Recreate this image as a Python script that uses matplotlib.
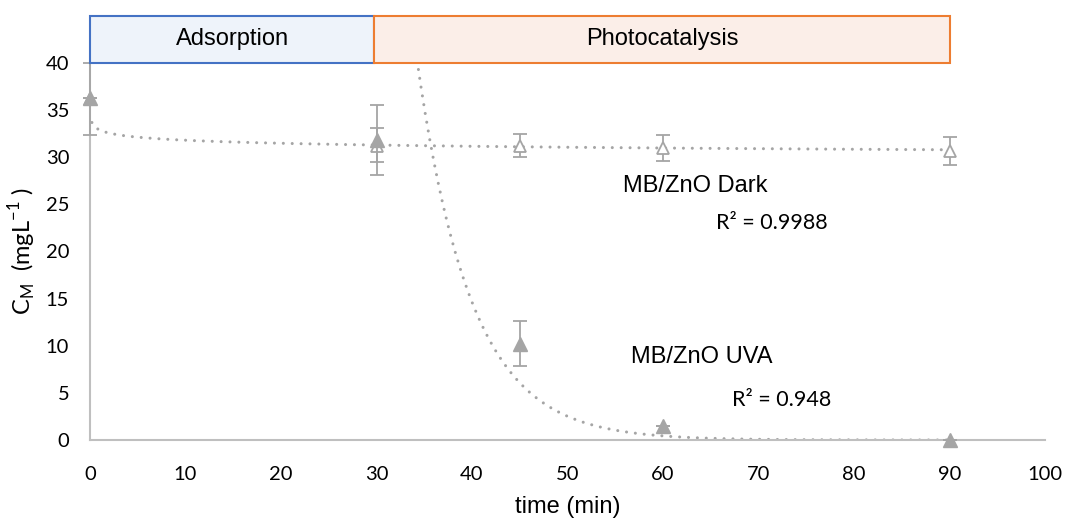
import numpy as np
import matplotlib.pyplot as plt
from matplotlib.patches import Rectangle

# data
time_dark = [0, 30, 45, 60, 90]
c_dark = [36.2, 31.2, 31.2, 31.0, 30.7]
err_dark_lo = [3.8, 1.7, 1.2, 1.4, 1.5]
err_dark_hi = [3.8, 1.9, 1.3, 1.4, 1.5]

time_uva = [0, 30, 45, 60, 90]
c_uva = [36.3, 31.8, 10.2, 1.5, 0.0]
err_uva_lo = [0.0, 3.7, 2.4, 0.0, 0.0]
err_uva_hi = [0.0, 3.7, 2.4, 0.0, 0.0]

# trendline coefficients (power fit for dark, exponential for UVA)
dark_a, dark_b = 32.9, -0.0147
uva_a, uva_k = 16700.0, 0.176
r2_dark = "0.9988"
r2_uva = "0.948"

grey = "#A5A5A5"
axis_grey = "#BFBFBF"
num_font = "Lato"
txt_font = "Liberation Sans"

fig = plt.figure(figsize=(10.68, 5.19), dpi=100)
ax = fig.add_axes([90 / 1068, 1 - 440 / 519, 955 / 1068, 377 / 519])

ax.errorbar(time_dark, c_dark, yerr=[err_dark_lo, err_dark_hi], fmt="^",
            mfc="white", mec=grey, mew=1.3, ms=9, ecolor=grey, elinewidth=1.3,
            capsize=5, capthick=1.3, clip_on=False, zorder=3)
ax.errorbar(time_uva, c_uva, yerr=[err_uva_lo, err_uva_hi], fmt="^",
            color=grey, ms=10, ecolor=grey, elinewidth=1.3,
            capsize=5, capthick=1.3, clip_on=False, zorder=4)

# trendlines, round dotted
dots = (0, (0.01, 2.9))
xd = np.linspace(0.2, 90, 300)
ax.plot(xd, dark_a * xd ** dark_b, ls=dots, lw=2.2, color=grey,
        dash_capstyle="round", zorder=2)
xu = np.linspace(30, 90, 400)
ax.plot(xu, uva_a * np.exp(-uva_k * xu), ls=dots, lw=2.2, color=grey,
        dash_capstyle="round", zorder=2)

ax.set_xlim(0, 100)
ax.set_ylim(0, 40)
ax.set_xticks(np.arange(0, 101, 10))
ax.set_yticks(np.arange(0, 41, 5))
ax.tick_params(length=0, labelsize=14.5)
ax.tick_params(axis="x", pad=19)
ax.tick_params(axis="y", pad=15)
for lab in ax.get_xticklabels() + ax.get_yticklabels():
    lab.set_fontfamily(num_font)
for s in ["top", "right"]:
    ax.spines[s].set_visible(False)
for s in ["left", "bottom"]:
    ax.spines[s].set_color(axis_grey)
    ax.spines[s].set_linewidth(1.5)

ax.set_xlabel("time (min)", fontsize=17, family=txt_font, labelpad=9)
ax.set_ylabel(r"C$_\mathregular{M}$  (mgL$^\mathregular{-1}$ )", fontsize=17,
              family=num_font, labelpad=5)

# phase boxes above the plot
ax.add_patch(Rectangle((0, 40), 29.7, 5.0, facecolor="#EEF3FA", edgecolor="#4472C4",
                       lw=1.5, clip_on=False, zorder=5))
ax.add_patch(Rectangle((29.7, 40), 60.3, 5.0, facecolor="#FBEEE8", edgecolor="#ED7D31",
                       lw=1.5, clip_on=False, zorder=5))
ax.text(14.9, 42.5, "Adsorption", ha="center", va="center", fontsize=17,
        family=txt_font, zorder=6)
ax.text(59.9, 42.5, "Photocatalysis", ha="center", va="center", fontsize=17,
        family=txt_font, zorder=6)

ax.text(63.35, 27.0, "MB/ZnO Dark", ha="center", va="center", fontsize=17,
        family=txt_font)
ax.text(71.4, 23.0, "R² = " + r2_dark, ha="center", va="center", fontsize=15.5,
        family=num_font)
ax.text(64.1, 8.8, "MB/ZnO UVA", ha="center", va="center", fontsize=17,
        family=txt_font)
ax.text(72.4, 4.25, "R² = " + r2_uva, ha="center", va="center", fontsize=15.5,
        family=num_font)

fig.savefig("out.png", dpi=100)
